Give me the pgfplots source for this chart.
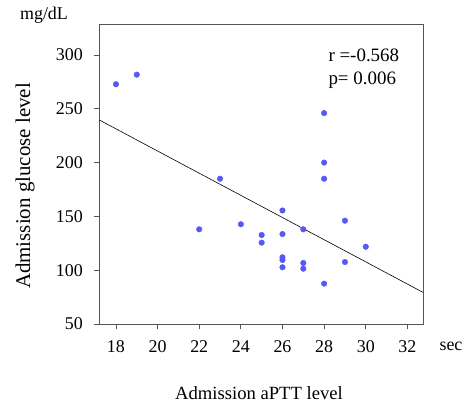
\documentclass[border=0pt]{standalone}
\usepackage{pgfplots}
\pgfplotsset{compat=1.18}
\usepackage{fontspec}
\setmainfont{Liberation Serif}
\definecolor{dotblue}{RGB}{88,88,245}
\definecolor{axgray}{RGB}{85,85,85}
\begin{document}
\begin{tikzpicture}
\useasboundingbox (0,0) rectangle (467bp,403bp);
\begin{axis}[
  at={(99.3bp,79bp)}, anchor=south west,
  scale only axis, width=323.7bp, height=300bp,
  xmin=17.2, xmax=32.75, ymin=50, ymax=328.8,
  xtick={18,20,...,32}, ytick={50,100,...,300},
  axis line style={axgray, line width=0.8pt},
  tick style={axgray, line width=0.8pt},
  major tick length=5bp,
  tick align=outside,
  xtick pos=bottom, ytick pos=left,
  /pgf/number format/assume math mode=true,
  ticklabel style={font=\fontsize{18}{20}\selectfont},
  xticklabel style={yshift=-8bp},
  yticklabel style={xshift=-8bp},
  clip=false,
]
\addplot[only marks, mark=*, mark size=2.8bp, dotblue, mark options={draw=dotblue, fill=dotblue}] coordinates {
(18,272.8) (19,281.7) (22,138) (23,185) (24,142.7) (25,132.7) (25,125.6)
(26,155.5) (26,133.6) (26,112) (26,109.5) (26,102.7)
(27,138) (27,106.7) (27,101.4)
(28,246) (28,200) (28,185) (28,87.5)
(29,146) (29,107.6) (30,121.8)
};
\addplot[black, line width=0.6pt] coordinates {(17.2,239.6) (32.75,79.4)};
\end{axis}
\node[anchor=base west, font=\fontsize{19}{21}\selectfont] at (325bp,341bp) {r =-0.568};
\node[anchor=base west, font=\fontsize{19}{21}\selectfont] at (325bp,318bp) {p= 0.006};
\node[font=\fontsize{18}{20}\selectfont] at (44bp,388bp) {mg/dL};
\node[font=\fontsize{18}{20}\selectfont] at (451bp,57bp) {sec};
\node[rotate=90, font=\fontsize{21}{23}\selectfont] at (25bp,217bp) {Admission glucose level};
\node[font=\fontsize{18.7}{21}\selectfont] at (259bp,10bp) {Admission aPTT level};
\end{tikzpicture}
\end{document}
